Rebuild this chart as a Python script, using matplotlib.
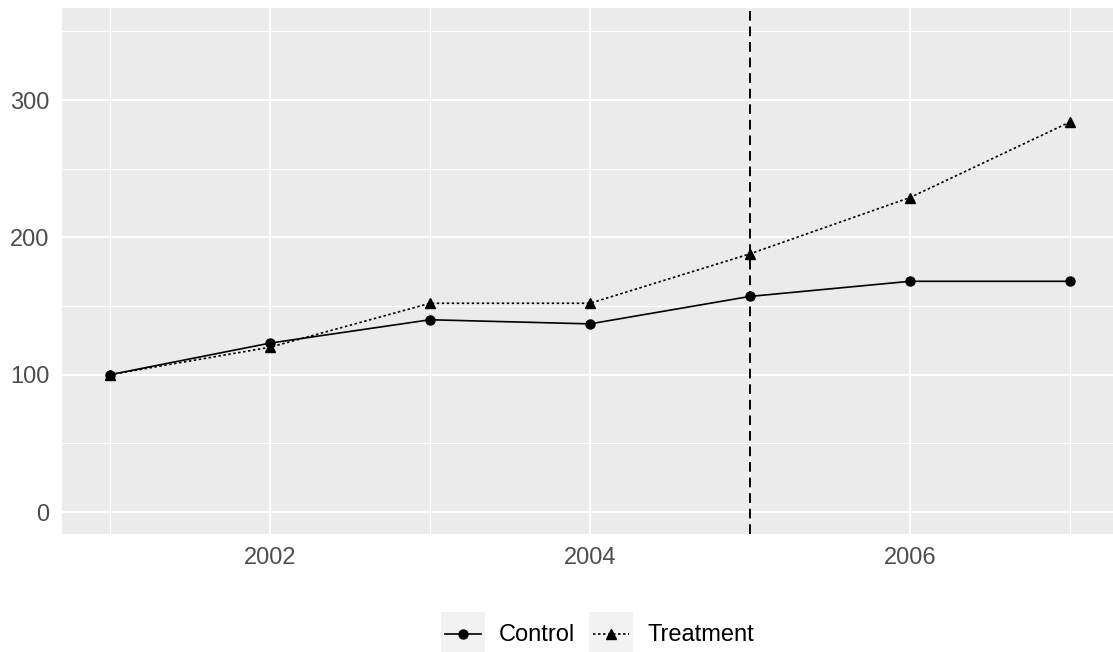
import matplotlib
matplotlib.use('Agg')
import matplotlib.pyplot as plt
from matplotlib.lines import Line2D
from matplotlib.patches import Rectangle

# data
years = [2001, 2002, 2003, 2004, 2005, 2006, 2007]
control = [100, 123, 140, 137, 157, 168, 168]
treatment = [100, 120, 152, 152, 188, 229, 284]
cutoff_year = 2005

x_major = [2002, 2004, 2006]
x_minor = [2001, 2003, 2005, 2007]
y_major = [0, 100, 200, 300]
y_minor = [50, 150, 250, 350]

W, H = 1113, 652
plt.rcParams['font.family'] = ['Liberation Sans', 'DejaVu Sans']

fig = plt.figure(figsize=(W / 100, H / 100), dpi=100)
# panel is cut off on the right in the reference
ax = fig.add_axes([62 / W, (H - 534) / H, 1056 / W, 526 / H])
ax.set_facecolor('#EBEBEB')
for s in ax.spines.values():
    s.set_visible(False)

ax.set_xlim(2000.7, 2007.3)
ax.set_ylim(-16, 367)
ax.set_xticks(x_major)
ax.set_xticks(x_minor, minor=True)
ax.set_yticks(y_major)
ax.set_yticks(y_minor, minor=True)
ax.grid(True, which='major', color='white', lw=1.5)
ax.grid(True, which='minor', color='white', lw=0.8)
ax.set_axisbelow(True)
ax.tick_params(which='both', length=0)
ax.tick_params(which='major', labelsize=17, labelcolor='#4D4D4D')
ax.tick_params(axis='y', pad=9)
ax.tick_params(axis='x', pad=9)

ax.plot(years, control, color='black', lw=1.2, ls='-', marker='o', ms=6.5, zorder=3)
ax.plot(years, treatment, color='black', lw=1.2, ls=(0, (1.5, 1.5)), marker='^', ms=6.5, zorder=3)
ax.axvline(cutoff_year, color='black', lw=1.4, ls=(0, (5, 3)), zorder=2)

# legend drawn by hand so keys get the grey ggplot background
def px(x, y):
    return x / W, 1 - y / H

keys = [
    ('Control', '-', 'o', 441, 499),
    ('Treatment', (0, (1.5, 1.5)), '^', 589, 647),
]
for label, ls, mk, kx, tx in keys:
    x0, y0 = px(kx, 652)
    fig.add_artist(Rectangle((x0, y0), 44 / W, 40 / H, transform=fig.transFigure,
                             facecolor='#F2F2F2', edgecolor='none'))
    xa, ya = px(kx + 4, 634)
    xb, _ = px(kx + 40, 634)
    fig.add_artist(Line2D([xa, xb], [ya, ya], transform=fig.transFigure,
                          color='black', lw=1.2, ls=ls))
    xm, _ = px(kx + 22, 634)
    fig.add_artist(Line2D([xm], [ya], transform=fig.transFigure,
                          color='black', marker=mk, ms=6.5, ls='none'))
    tx0, ty0 = px(tx, 635)
    fig.text(tx0, ty0, label, fontsize=17, color='black', va='center', ha='left')

fig.savefig('out.png', dpi=100)
